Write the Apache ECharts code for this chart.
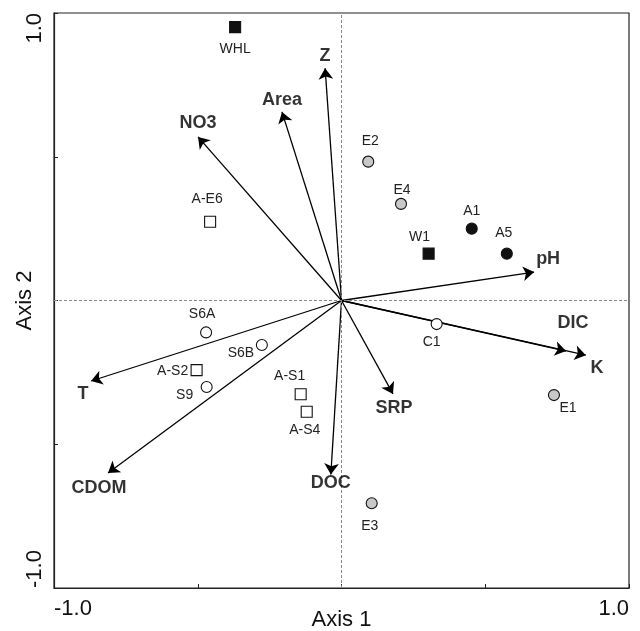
<!DOCTYPE html>
<html>
<head>
<meta charset="utf-8">
<script src="https://cdn.jsdelivr.net/npm/echarts@6/dist/echarts.min.js"></script>
<style>
  html, body { margin: 0; padding: 0; background: #fff; }
  #chart { width: 640px; height: 631px; }
</style>
</head>
<body>
<div id="chart"></div>
<script>
// environmental variables: arrow tips (axis 1 / axis 2)
var varNames = ['Z', 'Area', 'NO3', 'pH', 'DIC', 'K', 'SRP', 'DOC', 'T', 'CDOM']
var varX = [-0.057, -0.207, -0.499, 0.670, 0.781, 0.850, 0.179, -0.037, -0.871, -0.812]
var varY = [0.808, 0.656, 0.569, 0.099, -0.176, -0.190, -0.325, -0.605, -0.280, -0.600]

// sites
var siteNames = ['WHL', 'A-E6', 'E2', 'E4', 'A1', 'A5', 'W1', 'S6A', 'S6B', 'A-S2', 'S9', 'A-S1', 'A-S4', 'C1', 'E1', 'E3']
var siteX = [-0.370, -0.457, 0.093, 0.207, 0.453, 0.575, 0.303, -0.471, -0.277, -0.504, -0.469, -0.142, -0.121, 0.331, 0.739, 0.105]
var siteY = [0.951, 0.274, 0.483, 0.336, 0.250, 0.163, 0.163, -0.111, -0.155, -0.242, -0.301, -0.326, -0.387, -0.082, -0.329, -0.705]
var siteGroup = ['blackSq', 'openSq', 'grayCi', 'grayCi', 'blackCi', 'blackCi', 'blackSq', 'openCi', 'openCi', 'openSq', 'openCi', 'openSq', 'openSq', 'openCi', 'grayCi', 'grayCi']

// axis tick labels
var tickLabels = { '-1': '-1.0', '1': '1.0' }

// label offsets in px (from marker / arrow tip)
var siteLabelOffset = {
  'WHL': [0, 22], 'A-E6': [-3, -23], 'E2': [2, -20], 'E4': [1, -14], 'A1': [0, -17],
  'A5': [-3, -20], 'W1': [-9, -16], 'S6A': [-4, -18], 'S6B': [-21, 8], 'A-S2': [-24, 1],
  'S9': [-22, 8], 'A-S1': [-11, -18], 'A-S4': [-2, 18], 'C1': [-5, 18], 'E1': [14, 13], 'E3': [-2, 23]
}
var varLabelOffset = {
  'Z': [0, -12], 'Area': [0, -12], 'NO3': [0, -14], 'pH': [14, -13], 'DIC': [7, -28],
  'K': [11, 13], 'SRP': [1, 14], 'DOC': [0, 9], 'T': [-8, 13], 'CDOM': [-9, 15]
}

var groupStyle = {
  blackSq: { symbol: 'rect', color: '#111' },
  openSq: { symbol: 'rect', color: '#fff' },
  blackCi: { symbol: 'circle', color: '#111' },
  grayCi: { symbol: 'circle', color: '#c8c8c8' },
  openCi: { symbol: 'circle', color: '#fff' }
}

var FONT = '"Liberation Sans", Arial, sans-serif'

var series = []

// arrows
var arrowData = []
var varLabelData = []
for (var i = 0; i < varNames.length; i++) {
  arrowData.push({ coords: [[0, 0], [varX[i], varY[i]]] })
  varLabelData.push({
    name: varNames[i],
    value: [varX[i], varY[i]],
    label: { offset: varLabelOffset[varNames[i]] }
  })
}
series.push({
  type: 'lines',
  coordinateSystem: 'cartesian2d',
  symbol: ['none', 'arrow'],
  symbolSize: 11,
  silent: true,
  z: 3,
  lineStyle: { color: '#000', width: 1.3, opacity: 1 },
  data: arrowData
})
series.push({
  type: 'scatter',
  symbolSize: 0,
  silent: true,
  z: 5,
  label: {
    show: true,
    position: 'inside',
    formatter: '{b}',
    fontFamily: FONT,
    fontWeight: 'bold',
    fontSize: 18,
    color: '#000'
  },
  data: varLabelData,
  // dashed lines through the origin
  markLine: {
    silent: true,
    symbol: 'none',
    label: { show: false },
    lineStyle: { type: [3, 2], color: '#888', width: 1 },
    data: [{ xAxis: 0 }, { yAxis: 0 }]
  }
})

// sites, one series per marker style
Object.keys(groupStyle).forEach(function (g) {
  var pts = []
  for (var k = 0; k < siteNames.length; k++) {
    if (siteGroup[k] !== g) continue
    pts.push({
      name: siteNames[k],
      value: [siteX[k], siteY[k]],
      label: { offset: siteLabelOffset[siteNames[k]] }
    })
  }
  series.push({
    type: 'scatter',
    symbol: groupStyle[g].symbol,
    symbolSize: 11,
    z: 4,
    itemStyle: { color: groupStyle[g].color, borderColor: '#111', borderWidth: 1.1, opacity: 1 },
    label: {
      show: true,
      position: 'inside',
      formatter: '{b}',
      fontFamily: FONT,
      fontSize: 14,
      color: '#222'
    },
    data: pts
  })
})

var axisCommon = {
  type: 'value',
  min: -1,
  max: 1,
  interval: 0.5,
  nameLocation: 'middle',
  nameMoveOverlap: false,
  nameTextStyle: { fontFamily: FONT, fontSize: 22, color: '#111' },
  axisLine: { show: true, onZero: false, lineStyle: { color: '#222', width: 1.2 } },
  axisTick: { show: true, inside: true, length: 4, lineStyle: { color: '#222' } },
  splitLine: { show: false }
}

var chart = echarts.init(document.getElementById('chart'))
chart.setOption({
  animation: false,
  backgroundColor: '#fff',
  grid: {
    left: 54, right: 11, top: 13, bottom: 43,
    containLabel: false, outerBoundsMode: 'none',
    show: true, borderColor: '#222', borderWidth: 1.2
  },
  xAxis: Object.assign({}, axisCommon, {
    name: 'Axis 1',
    nameGap: 21,
    axisLabel: {
      fontFamily: FONT, fontSize: 22, color: '#111', margin: 10,
      alignMinLabel: 'left', alignMaxLabel: 'right',
      formatter: function (v) { return tickLabels[String(v)] || '' }
    }
  }),
  yAxis: Object.assign({}, axisCommon, {
    name: 'Axis 2',
    nameGap: 18,
    axisLabel: {
      fontFamily: FONT, fontSize: 22, color: '#111', margin: 8, rotate: 90,
      alignMinLabel: 'left', alignMaxLabel: 'right',
      formatter: function (v) { return tickLabels[String(v)] || '' }
    }
  }),
  series: series
})
</script>
</body>
</html>
